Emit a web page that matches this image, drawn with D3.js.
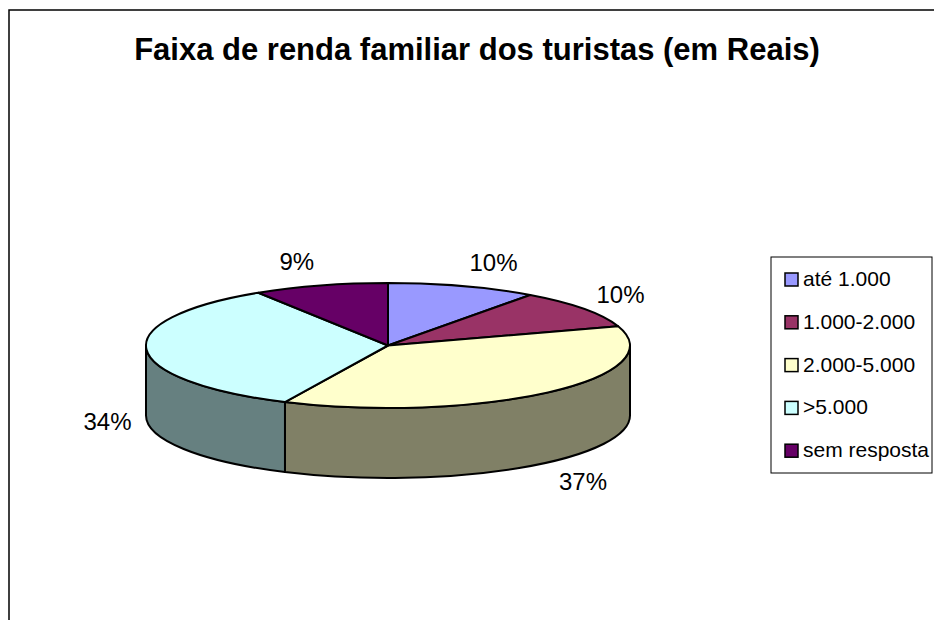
<!DOCTYPE html>
<html>
<head>
<meta charset="utf-8">
<script src="https://cdn.jsdelivr.net/npm/d3@7"></script>
<style>
    body { margin: 0; background: #fff; }
    text { font-family: "Liberation Sans", Arial, sans-serif; }
</style>
</head>
<body>
<div id="pieChart"></div>
<script>
const width = 934;
const height = 620;

// data
const categories = ["até 1.000", "1.000-2.000", "2.000-5.000", ">5.000", "sem resposta"];
const values = [10, 10, 37, 34, 9];
const topColors = ["#9999ff", "#993366", "#ffffcc", "#ccffff", "#660066"];
const sideColors = ["#4d4d80", "#4d1a33", "#808066", "#668080", "#330033"];
const title = "Faixa de renda familiar dos turistas (em Reais)";

// pie geometry
const cx = 388;
const cy = 345.5;
const rx = 242;
const ry = 62.5;
const depth = 70;

const svg = d3.select("#pieChart")
    .append("svg")
    .attr("width", width)
    .attr("height", height)
    .attr("viewBox", [0, 0, width, height])

svg.append("rect")
    .attr("width", width)
    .attr("height", height)
    .attr("fill", "#fff")

// chart area border (runs off the right and bottom edges)
svg.append("rect")
    .attr("x", 9)
    .attr("y", 10)
    .attr("width", width + 20)
    .attr("height", height + 20)
    .attr("fill", "none")
    .attr("stroke", "#000")
    .attr("stroke-width", 1.5)

svg.append("text")
    .attr("x", 477)
    .attr("y", 60)
    .attr("text-anchor", "middle")
    .style("font-size", "31px")
    .style("font-weight", "bold")
    .text(title)

const pie = d3.pie()
    .sort(null)
    .value(d => d)
    .startAngle(0)
    .endAngle(2 * Math.PI);

const arcs = pie(values).map((d, i) => ({ ...d, i }));
const total = d3.sum(values);
const pct = d3.format(".0%");

// point on the top ellipse for angle t (0 = 12 o'clock, clockwise)
const pt = (t, dy = 0) => [cx + rx * Math.sin(t), cy - ry * Math.cos(t) + dy];

const sidePath = (a0, a1) => {
    const s = Math.max(a0, Math.PI / 2);
    const e = Math.min(a1, 3 * Math.PI / 2);
    if (e <= s) return null;
    const p0 = pt(s), p1 = pt(e), q1 = pt(e, depth), q0 = pt(s, depth);
    return `M${p0}A${rx},${ry} 0 0 1 ${p1}L${q1}A${rx},${ry} 0 0 0 ${q0}Z`;
}

const topPath = d => {
    const p0 = pt(d.startAngle), p1 = pt(d.endAngle);
    const large = (d.endAngle - d.startAngle) > Math.PI ? 1 : 0;
    return `M${cx},${cy}L${p0}A${rx},${ry} 0 ${large} 1 ${p1}Z`;
}

// sides first
svg.append("g")
    .selectAll("path")
    .data(arcs.filter(d => sidePath(d.startAngle, d.endAngle)))
    .enter()
    .append("path")
    .attr("d", d => sidePath(d.startAngle, d.endAngle))
    .attr("fill", d => sideColors[d.i])
    .attr("stroke", "#000")
    .attr("stroke-width", 2)
    .attr("stroke-linejoin", "round")

svg.append("g")
    .selectAll("path")
    .data(arcs)
    .enter()
    .append("path")
    .attr("d", topPath)
    .attr("fill", d => topColors[d.i])
    .attr("stroke", "#000")
    .attr("stroke-width", 2)
    .attr("stroke-linejoin", "round")

// percentage labels, pushed outside the rim
const labels = svg.append("g")
    .selectAll("text")
    .data(arcs)
    .enter()
    .append("text")
    .attr("text-anchor", "middle")
    .attr("dy", "0.36em")
    .style("font-size", "24px")
    .attr("fill", "#000")
    .text(d => pct(d.value / total))

labels.each(function (d) {
    const t = (d.startAngle + d.endAngle) / 2;
    const w = this.getComputedTextLength();
    const front = Math.cos(t) < 0;
    const p = pt(t, front ? depth : 0);
    const sx = Math.sin(t);
    const lx = p[0] + Math.sign(sx) * (w / 2 + 3) + sx * 12;
    const ly = p[1] - Math.cos(t) * 25;
    d3.select(this).attr("x", lx).attr("y", ly);
})

// legend
const legend = svg.append("g")
    .attr("transform", "translate(771,257)")

legend.append("rect")
    .attr("width", 161)
    .attr("height", 216)
    .attr("fill", "#fff")
    .attr("stroke", "#000")
    .attr("stroke-width", 1)

const legendItem = legend.selectAll(".legend-item")
    .data(categories)
    .enter()
    .append("g")
    .attr("class", "legend-item")
    .attr("transform", (d, i) => `translate(0, ${29 + i * 42.8})`);

legendItem.append("rect")
    .attr("x", 14)
    .attr("y", -13)
    .attr("width", 13)
    .attr("height", 13)
    .attr("fill", (d, i) => topColors[i])
    .attr("stroke", "#000")
    .attr("stroke-width", 1.5)

legendItem.append("text")
    .attr("x", 32)
    .attr("y", 0)
    .style("font-size", "21px")
    .text(d => d)
</script>
</body>
</html>
